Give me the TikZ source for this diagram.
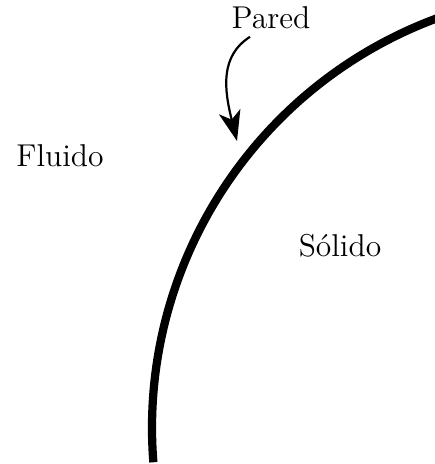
\documentclass[tikz,border=0pt]{standalone}
\usepackage{tikz}
\usetikzlibrary{arrows.meta, positioning}

\begin{document}
\begin{tikzpicture}[x=0.0128cm, y=0.0128cm, font=\fontsize{11.5}{14}\selectfont]
  \useasboundingbox (0,0) rectangle (435,464);
  \clip (0,0) rectangle (435,464);

  % pared
  \draw[line width=3pt] (589,36) ++(184.5:437) arc[start angle=184.5, end angle=105, radius=437];

  % etiquetas
  \node (pared) at (271,446) {Pared};
  \node (fluido) at (60,308) {Fluido};
  \node (solido) at (340,218) {Sólido};

  % flecha
  \coordinate (tip) at (237,323);
  \draw[thick, -{Stealth[length=11pt, width=8pt, inset=3pt]}]
    (pared.south) ++(-21,2) .. controls (220,408) and (224,375) .. (tip);
\end{tikzpicture}
\end{document}
